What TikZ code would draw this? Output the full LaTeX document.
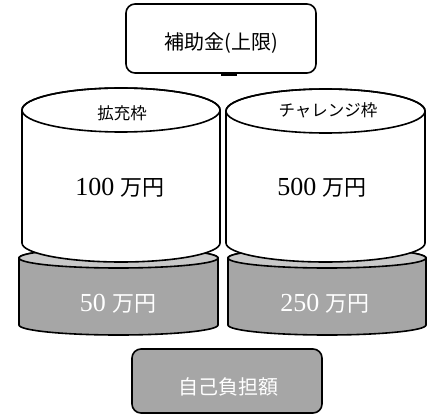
\documentclass[tikz,border=0pt]{standalone}
\usepackage{fontspec}
\setmainfont{Liberation Serif}
\newfontfamily\cjk{Noto Sans CJK JP}
\begin{document}
\begin{tikzpicture}[x=1pt,y=-1pt]
\tikzset{
  outline/.style={draw=black,line width=1.6pt},
  grayface/.style={outline,fill=black!35},
  graytop/.style={outline,fill=black!21},
  whiteface/.style={outline,fill=white},
  lbl/.style={inner sep=0pt},
  wlbl/.style={lbl,text=white},
  boxstyle/.style={draw=black,line width=1.6pt,rounded corners=9pt,inner sep=0pt},
  numfont/.style={font=\fontsize{26}{28}\selectfont},
}
\newcommand{\yen}{{\cjk\fontsize{22}{24}\selectfont 万円}}
\useasboundingbox (0,0) rectangle (433,414);
% top box
\node[boxstyle,minimum width=190pt,minimum height=69pt] (hojo) at (221,38.5) {};
\node[lbl,font=\fontsize{20}{22}\selectfont\cjk] (hojot) at (221,43) {補助金(上限)};
\draw[line width=3pt] (hojo.south) ++(0,0.6) coordinate (s1) -- ++(16,0) coordinate (s2);
% gray cylinders
\foreach \cx/\rx in {118.5/99.5,327/99}{
  \draw[grayface] (\cx-\rx,258) -- (\cx-\rx,325) arc[start angle=180,end angle=0,x radius=\rx,y radius=10] -- (\cx+\rx,258) arc[start angle=0,end angle=-180,x radius=\rx,y radius=10] -- cycle;
  \draw[graytop] (\cx,258) ellipse[x radius=\rx,y radius=10];
}
% white cylinders
\foreach \cx/\rx/\cy in {121/99/110,325.5/99.5/111}{
  \draw[whiteface] (\cx-\rx,\cy) -- (\cx-\rx,243) arc[start angle=180,end angle=0,x radius=\rx,y radius=19] -- (\cx+\rx,\cy) arc[start angle=0,end angle=-180,x radius=\rx,y radius=22] -- cycle;
  \draw[outline] (\cx,\cy) ellipse[x radius=\rx,y radius=22];
}
% bottom box
\node[boxstyle,fill=black!35,minimum width=190pt,minimum height=64pt] (jiko) at (227,381) {};
\node[wlbl,font=\fontsize{20}{22}\selectfont\cjk] (jikot) at (228,387) {自己負担額};
% labels
\node[lbl,font=\fontsize{16.5}{18}\selectfont\cjk] (kaku) at (122,113) {拡充枠};
\node[lbl,font=\fontsize{16.5}{18}\selectfont\cjk] (chal) at (328,110) {チャレンジ枠};
\node[lbl,numfont] (v100) at (120,188) {100 \yen};
\node[lbl,numfont] (v500) at (322,188) {500 \yen};
\node[wlbl,numfont] (v50) at (118,304) {50 \yen};
\node[wlbl,numfont] (v250) at (325,304) {250 \yen};
\end{tikzpicture}
\end{document}
